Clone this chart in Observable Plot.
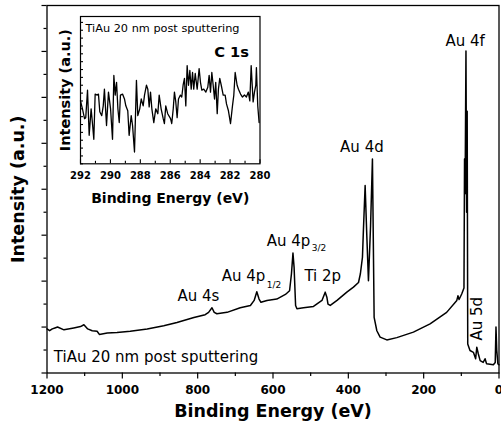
<!DOCTYPE html>
<html><head><meta charset="utf-8">
<script src="https://cdn.jsdelivr.net/npm/d3@7"></script>
<script src="https://cdn.jsdelivr.net/npm/@observablehq/plot@0.6"></script>
<style>
html,body{margin:0;padding:0;background:#fff;}
#wrap{position:relative;width:501px;height:427px;overflow:hidden;background:#fff;}
#wrap svg{position:absolute;}
</style></head><body><div id="wrap"></div>
<script>
// ---- Main survey spectrum (binding energy, eV / intensity, a.u.) ----
const energy = [1200, 1193, 1186, 1179, 1172, 1155, 1129, 1111, 1102, 1092, 1080, 1067, 1061, 1040, 1014, 979, 934, 890, 855, 810, 780, 771, 762, 756, 749, 722, 687, 660, 650, 643, 637, 632, 616, 590, 567, 556, 551, 547, 544, 540, 536.5, 519, 492.5, 470, 461.4, 457, 454, 448, 430, 404, 386.4, 373, 368, 362.5, 360, 355.4, 351, 346.6, 341, 336, 331.5, 324.3, 315.6, 297.8, 271.3, 227.3, 183, 139, 112, 109, 106, 99, 93, 91.5, 90, 87.7, 86, 84.5, 83, 77, 68, 62, 59, 55, 50, 42, 37, 33, 15, 10, 8, 6, 3, 0];
const intensity = [0.96, 0.92, 0.96, 0.98, 1.0, 0.94, 0.98, 1.01, 1.05, 0.96, 0.92, 0.91, 0.84, 0.87, 0.88, 0.91, 0.96, 1.03, 1.1, 1.21, 1.27, 1.32, 1.42, 1.32, 1.29, 1.32, 1.42, 1.47, 1.58, 1.77, 1.61, 1.54, 1.58, 1.61, 1.71, 1.79, 2.16, 2.61, 2.3, 1.47, 1.40, 1.42, 1.45, 1.58, 1.76, 1.65, 1.50, 1.47, 1.58, 1.76, 1.87, 1.97, 2.16, 2.52, 3.1, 4.08, 3.0, 2.01, 3.2, 4.66, 1.21, 0.92, 0.78, 0.72, 0.77, 0.89, 1.07, 1.32, 1.58, 1.68, 1.6, 1.72, 1.85, 4.66, 3.9, 7.01, 3.5, 5.7, 0.63, 0.49, 0.45, 0.31, 0.56, 0.42, 0.27, 0.23, 0.31, 0.2, 0.18, 0.23, 1.0, 0.5, 0.2, 0.18];

const xMajorTicks = [1200, 1000, 800, 600, 400, 200, 0];
const xMinorTicks = [1100, 900, 700, 500, 300, 100];
const yMajorTicks = [0, 1, 2, 3, 4, 5, 6, 7, 8];
const yMinorTicks = [0.5, 1.5, 2.5, 3.5, 4.5, 5.5, 6.5, 7.5];

const peakNames = ["Au 4f", "Au 4d", "Ti 2p", "Au 4s"];
const peakLabelE = [90, 364, 468, 798];
const peakLabelY = [7.23, 4.92, 2.1, 1.67];
const orbitalNames = ["Au 4p", "Au 4p"];
const orbitalSubs = ["3/2", "1/2"];
const orbitalE = [501, 620.5];
const orbitalY = [2.86, 2.10];
const orbitalSubY = [2.71, 1.92];

// ---- Inset: C 1s region ----
const insetE = [292.00, 291.87, 291.73, 291.65, 291.53, 291.42, 291.29, 291.20, 291.11, 291.02, 290.88, 290.80, 290.71, 290.58, 290.48, 290.40, 290.26, 290.13, 289.99, 289.86, 289.77, 289.68, 289.59, 289.50, 289.41, 289.33, 289.19, 289.06, 288.97, 288.84, 288.75, 288.61, 288.52, 288.39, 288.26, 288.17, 288.04, 287.94, 287.81, 287.72, 287.59, 287.50, 287.41, 287.32, 287.23, 287.10, 286.97, 286.83, 286.74, 286.61, 286.47, 286.39, 286.30, 286.17,
  285.98, 285.90, 285.80, 285.72, 285.63, 285.54, 285.45, 285.32, 285.23, 285.14, 285.05, 284.96, 284.87, 284.78, 284.69, 284.60, 284.51, 284.43, 284.33, 284.20, 284.07, 283.98, 283.89, 283.76, 283.62, 283.49, 283.40, 283.31, 283.22, 283.13, 283.04, 282.96, 282.86, 282.78, 282.69, 282.59, 282.46, 282.33, 282.24, 282.11, 281.97, 281.84, 281.75, 281.66, 281.53, 281.44, 281.30, 281.17, 281.04, 280.91, 280.78, 280.68, 280.59, 280.46, 280.37, 280.28, 280.24, 280.15, 280.06];
const insetI = [64, 56, 46, 47, 75, 29, 56, 41, 25, 71, 70, 71, 53, 49, 59, 76, 39, 73, 56, 25, 90, 70, 83, 56, 42, 70, 71, 66, 59, 54, 29, 49, 39, 12, 85, 49, 56, 66, 59, 70, 80, 76, 58, 73, 56, 42, 56, 51, 70, 56, 46, 41, 59, 51,
  46, 41, 56, 73, 63, 47, 66, 70, 68, 80, 87, 59, 100, 80, 95, 76, 93, 76, 92, 76, 97, 83, 75, 76, 73, 78, 90, 73, 93, 80, 66, 83, 51, 76, 87, 80, 70, 70, 61, 54, 41, 59, 70, 93, 80, 76, 71, 68, 70, 68, 73, 64, 100, 63, 73, 80, 98, 59, 42];
const insetXMajor = [292, 290, 288, 286, 284, 282, 280];
const insetXMinor = [291, 289, 287, 285, 283, 281];
const insetYTicks = [0, 8, 16, 24, 32, 40, 48, 56, 64, 72, 80, 88, 96, 104, 112, 120, 128, 136, 144];

const FONT = "DejaVu Sans";
const spectrum = energy.map((E, i) => ({E, I: intensity[i]}));
const c1s = insetE.map((E, i) => ({E, I: insetI[i]}));

const wrap = document.getElementById("wrap");

const main = Plot.plot({
  width: 501, height: 427,
  marginLeft: 46.5, marginRight: 2.5, marginTop: 5, marginBottom: 54.5,
  style: {fontFamily: FONT, background: "white", color: "black", overflow: "visible"},
  x: {domain: [1200, 0]},
  y: {domain: [0, 8]},
  marks: [
    Plot.axisX({ticks: xMajorTicks, tickSize: 6, tickFormat: () => "", label: null, strokeWidth: 1.2}),
    Plot.axisX({ticks: xMinorTicks, tickSize: 3.5, tickFormat: () => "", label: null, strokeWidth: 1.2}),
    Plot.axisX({ticks: xMajorTicks, tickSize: 0, tickPadding: 12.4, tickFormat: d => String(d), label: null, fontSize: 12, fontWeight: "bold"}),
    Plot.axisY({ticks: yMajorTicks, tickSize: 5, tickFormat: () => "", label: null, strokeWidth: 1.2}),
    Plot.axisY({ticks: yMinorTicks, tickSize: 3, tickFormat: () => "", label: null, strokeWidth: 1.2}),
    Plot.frame({stroke: "black", strokeWidth: 1.3}),
    Plot.line(spectrum, {x: "E", y: "I", stroke: "black", strokeWidth: 1.5}),
    Plot.text(peakNames, {x: (d, i) => peakLabelE[i], y: (d, i) => peakLabelY[i], text: d => d, fontSize: 15, textAnchor: "middle", lineAnchor: "middle"}),
    Plot.text(orbitalNames, {x: (d, i) => orbitalE[i], y: (d, i) => orbitalY[i], text: d => d, fontSize: 15, textAnchor: "end", lineAnchor: "middle"}),
    Plot.text(orbitalSubs, {x: (d, i) => orbitalE[i], y: (d, i) => orbitalSubY[i], text: d => d, fontSize: 9, textAnchor: "start", lineAnchor: "middle", dx: 1.5}),
    Plot.text(["TiAu 20 nm post sputtering"], {x: 1182, y: 0.34, text: d => d, fontSize: 15, textAnchor: "start", lineAnchor: "middle"}),
    Plot.text(["Au 5d"], {x: 57, y: 1.18, text: d => d, fontSize: 15, rotate: -90, textAnchor: "middle", lineAnchor: "middle"}),
    Plot.text(["Binding Energy (eV)"], {frameAnchor: "bottom", dy: 38, text: d => d, fontSize: 17.5, fontWeight: "bold", textAnchor: "middle", lineAnchor: "middle"}),
    Plot.text(["Intensity (a.u.)"], {frameAnchor: "left", dx: -28.5, rotate: -90, text: d => d, fontSize: 17.5, fontWeight: "bold", textAnchor: "middle", lineAnchor: "middle"})
  ]
});
main.style.left = "0px"; main.style.top = "0px";
wrap.append(main);

const inset = Plot.plot({
  width: 224, height: 215,
  marginLeft: 24, marginRight: 20.5, marginTop: 16, marginBottom: 51.7,
  style: {fontFamily: FONT, background: "transparent", color: "black", overflow: "visible"},
  x: {domain: [292, 280]},
  y: {domain: [0, 150]},
  marks: [
    Plot.axisX({ticks: insetXMajor, tickSize: 4, dy: -4, tickFormat: () => "", label: null, strokeWidth: 1.1}),
    Plot.axisX({ticks: insetXMinor, tickSize: 2.5, dy: -2.5, tickFormat: () => "", label: null, strokeWidth: 1.1}),
    Plot.axisX({ticks: insetXMajor, tickSize: 0, tickPadding: 7.7, tickFormat: d => String(d), label: null, fontSize: 10, fontWeight: "bold"}),
    Plot.axisY({ticks: insetYTicks, tickSize: 3, dx: 3, tickFormat: () => "", label: null, strokeWidth: 1.1}),
    Plot.frame({stroke: "black", strokeWidth: 1.2}),
    Plot.line(c1s, {x: "E", y: "I", stroke: "black", strokeWidth: 1.3}),
    Plot.text(["TiAu 20 nm post sputtering"], {frameAnchor: "top-left", dx: 5, dy: 12, text: d => d, fontSize: 11.3, textAnchor: "start", lineAnchor: "middle"}),
    Plot.text(["C 1s"], {frameAnchor: "top-right", dx: -11, dy: 35.3, text: d => d, fontSize: 14.7, fontWeight: "bold", textAnchor: "end", lineAnchor: "middle"}),
    Plot.text(["Binding Energy (eV)"], {frameAnchor: "bottom", dy: 35.2, text: d => d, fontSize: 14, fontWeight: "bold", textAnchor: "middle", lineAnchor: "middle"}),
    Plot.text(["Intensity (a.u.)"], {frameAnchor: "left", dx: -15, rotate: -90, text: d => d, fontSize: 14.5, fontWeight: "bold", textAnchor: "middle", lineAnchor: "middle"})
  ]
});
inset.style.left = "56px"; inset.style.top = "0px";
wrap.append(inset);
</script>
</body></html>
